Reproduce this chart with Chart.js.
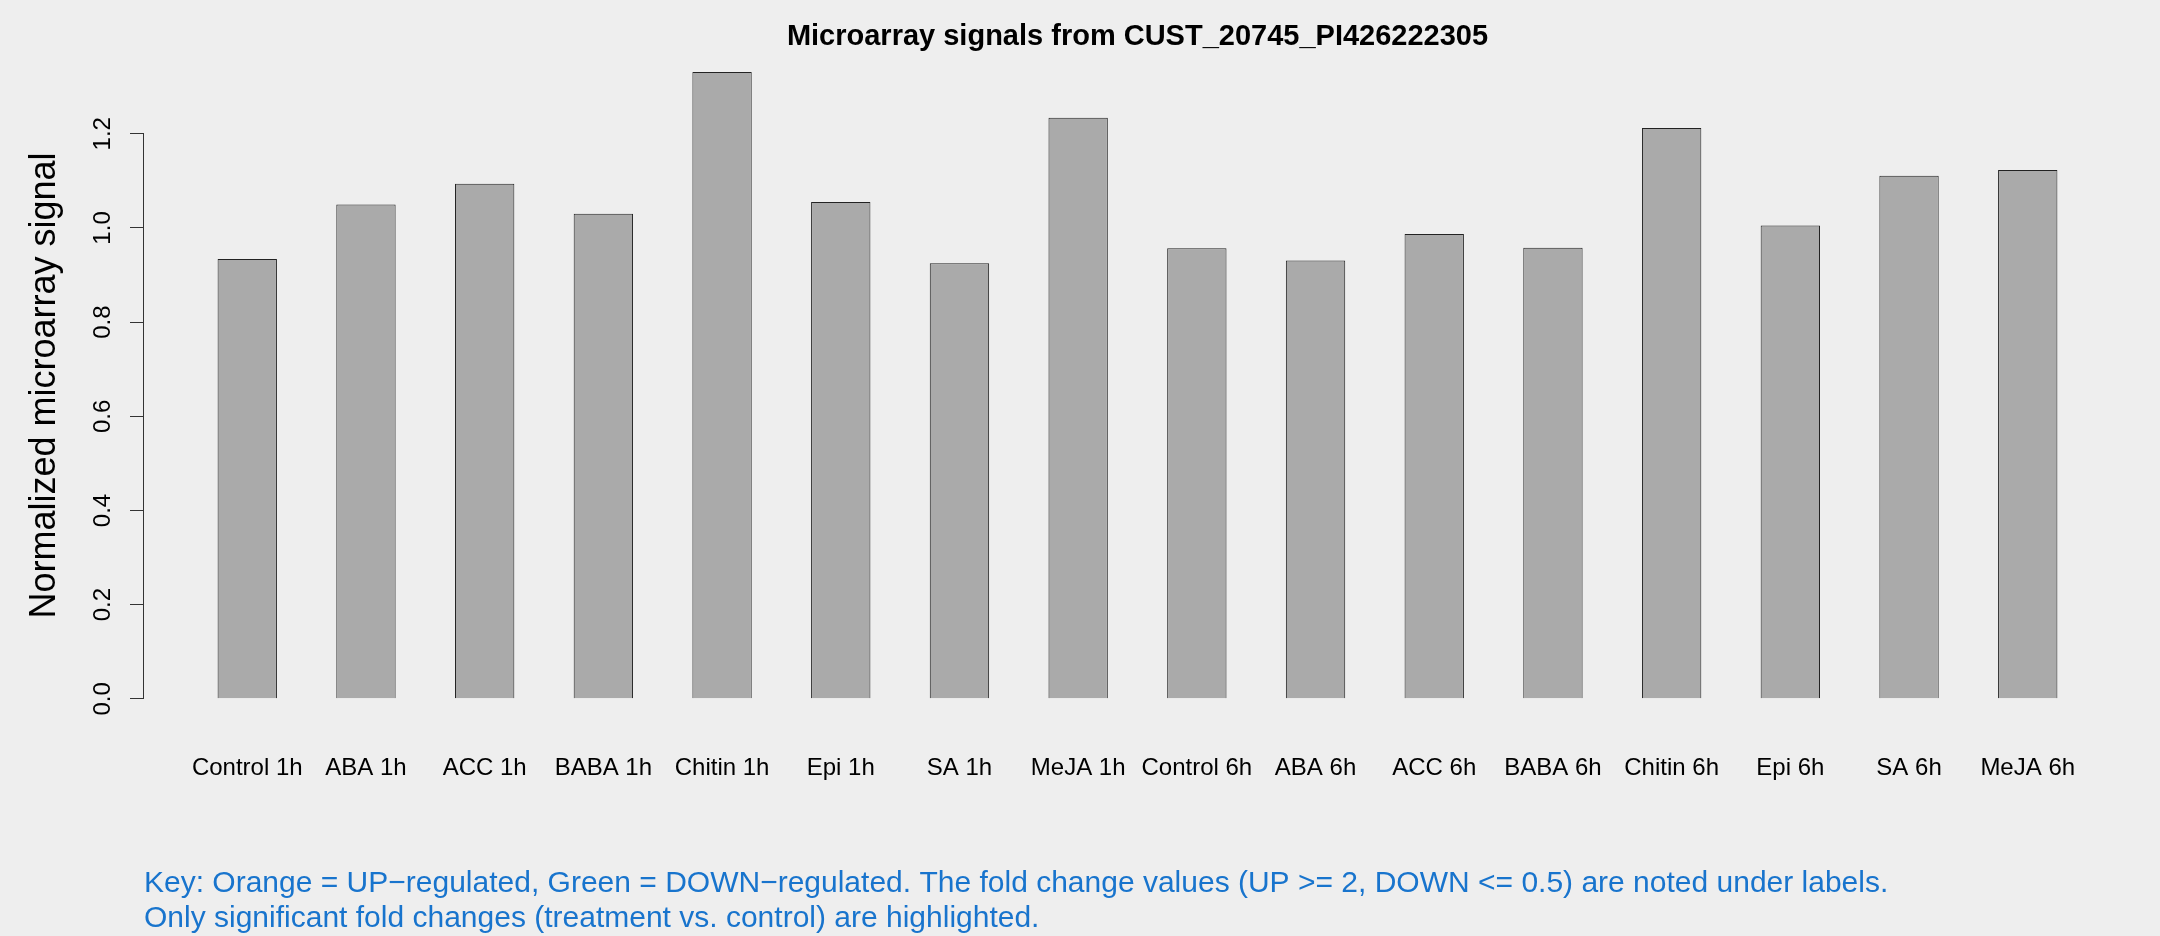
<!DOCTYPE html>
<html>
<head>
<meta charset="utf-8">
<script src="https://cdn.jsdelivr.net/npm/chart.js@4.4.1/dist/chart.umd.min.js"></script>
<style>
  html, body { margin: 0; padding: 0; background: #eeeeee; }
  #wrap { width: 2160px; height: 936px; }
</style>
</head>
<body>
<div id="wrap"><canvas id="chart" width="2160" height="936"></canvas></div>
<script>
// treatments, in plot order
var categories = ["Control 1h", "ABA 1h", "ACC 1h", "BABA 1h", "Chitin 1h", "Epi 1h", "SA 1h", "MeJA 1h",
                  "Control 6h", "ABA 6h", "ACC 6h", "BABA 6h", "Chitin 6h", "Epi 6h", "SA 6h", "MeJA 6h"];
// normalized signal
var signal = [0.934, 1.050, 1.094, 1.030, 1.331, 1.055, 0.925, 1.234,
              0.957, 0.931, 0.987, 0.958, 1.212, 1.005, 1.111, 1.123];
var yTicks = [0.0, 0.2, 0.4, 0.6, 0.8, 1.0, 1.2];

var titleText = "Microarray signals from CUST_20745_PI426222305";
var yTitle = "Normalized microarray signal";
var keyLines = [
    "Key: Orange = UP\u2212regulated, Green = DOWN\u2212regulated. The fold change values (UP >= 2, DOWN <= 0.5) are noted under labels.",
    "Only significant fold changes (treatment vs. control) are highlighted."
];

// R barplot style: bar width 1, space 1, axis range padded by 4%
var centers = categories.map(function (c, i) { return 2 * i + 1.5; });
var xLo = 1, xHi = 2 * categories.length;
var xPad = (xHi - xLo) * 0.04;
var yMax = Math.max.apply(null, signal);
var yPad = yMax * 0.04;

var points = categories.map(function (c, i) {
    return { x: centers[i], y: signal[i] };
});

// y axis line only spans the ticks, like R
var axisLine = {
    id: 'axisLine',
    afterDraw: function (chart) {
        var ys = chart.scales.y;
        var ctx = chart.ctx;
        var x = Math.round(chart.chartArea.left) - 0.5;
        ctx.save();
        ctx.strokeStyle = '#333';
        ctx.lineWidth = 1;
        ctx.beginPath();
        ctx.moveTo(x, ys.getPixelForValue(yTicks[0]));
        ctx.lineTo(x, ys.getPixelForValue(yTicks[yTicks.length - 1]));
        ctx.stroke();
        ctx.restore();
    }
};

var config = {
    type: 'bar',
    data: {
        datasets: [{
            data: points,
            backgroundColor: '#aaaaaa',
            borderColor: '#222222',
            borderWidth: 1,
            barPercentage: 0.5,
            categoryPercentage: 1.0
        }]
    },
    options: {
        responsive: false,
        animation: false,
        devicePixelRatio: 1,
        layout: { padding: { left: 0, right: 29, top: 0, bottom: 0 } },
        plugins: {
            legend: { display: false },
            tooltip: { enabled: false },
            title: {
                display: true,
                text: titleText,
                fullSize: false,
                color: '#000',
                font: { family: 'Liberation Sans', size: 29, weight: 'bold', lineHeight: 0.69 },
                padding: { top: 27, bottom: 0 }
            },
            subtitle: {
                display: true,
                text: keyLines,
                position: 'bottom',
                align: 'start',
                fullSize: false,
                color: '#1874cd',
                font: { family: 'Liberation Sans', size: 30, lineHeight: 1.16 },
                padding: { top: 20, bottom: 0 }
            }
        },
        scales: {
            x: {
                type: 'linear',
                offset: false,
                min: xLo - xPad,
                max: xHi + xPad,
                grid: { display: false, drawTicks: false },
                border: { display: false },
                afterBuildTicks: function (scale) {
                    scale.ticks = centers.map(function (v) { return { value: v }; });
                },
                afterFit: function (scale) { scale.height = 122.5; },
                ticks: {
                    autoSkip: false,
                    maxRotation: 0,
                    padding: 30,
                    color: '#000',
                    font: { family: 'Liberation Sans', size: 24 },
                    callback: function (v, i) { return categories[i]; }
                }
            },
            y: {
                min: -yPad,
                max: yMax + yPad,
                afterBuildTicks: function (scale) {
                    scale.ticks = yTicks.map(function (v) { return { value: v }; });
                },
                afterFit: function (scale) { scale.width = 144; },
                grid: {
                    display: true,
                    drawOnChartArea: false,
                    drawTicks: true,
                    tickLength: 14,
                    color: '#333'
                },
                border: { display: false },
                ticks: {
                    autoSkip: false,
                    minRotation: 90,
                    maxRotation: 90,
                    crossAlign: 'center',
                    padding: 10,
                    color: '#000',
                    font: { family: 'Liberation Sans', size: 24 },
                    callback: function (v) { return v.toFixed(1); }
                },
                title: {
                    display: true,
                    text: yTitle,
                    color: '#000',
                    font: { family: 'Liberation Sans', size: 36 },
                    padding: { top: 23, bottom: 0 }
                }
            }
        }
    },
    plugins: [axisLine]
};

var ctx = document.getElementById('chart').getContext('2d');
var chart = new Chart(ctx, config);
</script>
</body>
</html>
